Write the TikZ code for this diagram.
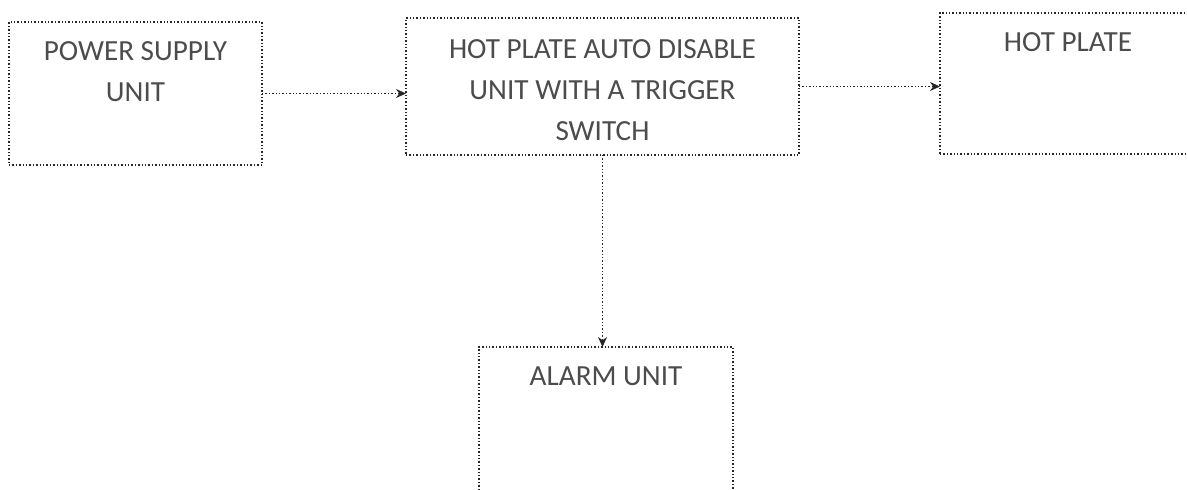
\documentclass[tikz,border=0pt]{standalone}
\usepackage{fontspec}
\setmainfont{Carlito}
\usetikzlibrary{arrows.meta}

\begin{document}
\begin{tikzpicture}[x=0.5pt, y=-0.5pt]
    % Styles
    \tikzset{
      unit box/.style={draw=black!85, densely dotted, line width=0.7pt, rectangle,
        inner sep=0pt, outer sep=0pt},
      unit text/.style={anchor=north, yshift=-9.5pt, inner sep=0pt, align=center,
        text=black!70, font=\fontsize{14.6}{20.5}\selectfont},
      link/.style={draw=black!85, densely dotted, line width=0.7pt,
        -{Stealth[length=5pt, width=4.5pt]}}
    }
    \clip (0,0) rectangle (1187,489);

    % --- Top row ---
    \node[unit box, minimum width=126.5pt, minimum height=71.5pt,
      label={[unit text]north:POWER SUPPLY\\UNIT}] (psu) at (135.5,93.5) {};
    \node[unit box, minimum width=196.5pt, minimum height=68.5pt,
      label={[unit text, yshift=-1pt]north:HOT PLATE AUTO DISABLE\\UNIT WITH A TRIGGER\\SWITCH}] (disable) at (602.5,86.5) {};
    \node[unit box, minimum width=128pt, minimum height=70.5pt,
      label={[unit text]north:HOT PLATE}] (hotplate) at (1068,83.5) {};

    % --- Bottom: alarm ---
    \node[unit box, minimum width=127pt, minimum height=81.5pt,
      label={[unit text]north:ALARM UNIT}] (alarm) at (606,428.5) {};

    % Connectors
    \draw[link] (psu.east) -- (psu.east -| disable.west);
    \draw[link] (disable.east) -- (disable.east -| hotplate.west);
    \draw[link] (disable.south) -- (disable.south |- alarm.north);

\end{tikzpicture}
\end{document}
